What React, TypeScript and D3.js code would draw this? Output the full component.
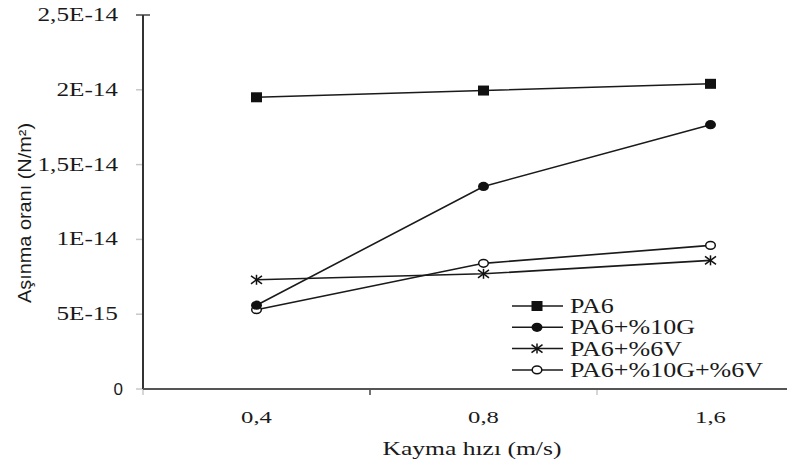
import React, { useEffect, useRef } from 'react';
import * as d3 from 'd3';

// Data
const categories = ['0,4', '0,8', '1,6'];
const pa6 = [1.95e-14, 1.995e-14, 2.04e-14];
const pa6G = [5.6e-15, 1.354e-14, 1.767e-14];
const pa6V = [7.3e-15, 7.7e-15, 8.6e-15];
const pa6GV = [5.3e-15, 8.4e-15, 9.6e-15];
const seriesNames = ['PA6', 'PA6+%10G', 'PA6+%6V', 'PA6+%10G+%6V'];
const markerTypes = ['square', 'circle', 'star', 'open'];
const yTickValues = [0, 5e-15, 1e-14, 1.5e-14, 2e-14, 2.5e-14];
const yTickLabels = ['0', '5E-15', '1E-14', '1,5E-14', '2E-14', '2,5E-14'];

const W = 787;
const H = 463;

const App = () => {
  const ref = useRef<SVGSVGElement>(null);

  useEffect(() => {
    const svg = d3.select(ref.current);
    svg.selectAll('*').remove();

    const left = 143;
    const bottom = 389;
    const top = 15;

    const x = d3.scaleBand().domain(categories).range([left, left + 3 * 227]);
    const y = d3.scaleLinear().domain([0, 2.5e-14]).range([bottom, top]);
    const cx = (c: string) => (x(c) as number) + x.bandwidth() / 2;

    const serif = '"Liberation Serif", "Times New Roman", serif';
    const sans = '"Liberation Sans", Arial, sans-serif';

    // stretch text horizontally like the scanned original
    const stretch = (sel: d3.Selection<SVGTextElement, any, any, any>, k: number) => {
      sel.each(function () {
        const w = this.getComputedTextLength();
        d3.select(this).attr('textLength', w * k).attr('lengthAdjust', 'spacingAndGlyphs');
      });
    };

    // y ticks
    const yt = svg.append('g');
    yt.selectAll('line')
      .data(yTickValues)
      .enter()
      .append('line')
      .attr('x1', 136)
      .attr('x2', (d, i) => (i === yTickValues.length - 1 ? 150 : left))
      .attr('y1', d => y(d))
      .attr('y2', d => y(d))
      .attr('stroke', (d, i) => (i === yTickValues.length - 1 ? '#444' : '#c8c8c8'))
      .attr('stroke-width', 1.5);

    const ylab = yt.selectAll('text.yl')
      .data(yTickValues.slice(1))
      .enter()
      .append('text')
      .attr('class', 'yl')
      .attr('x', 118)
      .attr('y', d => y(d) + 6)
      .attr('text-anchor', 'end')
      .attr('font-family', serif)
      .attr('font-size', 18)
      .attr('fill', '#1a1a1a')
      .text((d, i) => yTickLabels[i + 1]);
    stretch(ylab as any, 1.4);

    yt.append('text')
      .attr('x', 123)
      .attr('y', bottom + 6)
      .attr('text-anchor', 'end')
      .attr('font-family', sans)
      .attr('font-size', 17)
      .attr('fill', '#1a1a1a')
      .text(yTickLabels[0]);

    // x ticks
    svg.append('g')
      .selectAll('line')
      .data(categories)
      .enter()
      .append('line')
      .attr('x1', d => x(d) as number)
      .attr('x2', d => x(d) as number)
      .attr('y1', bottom)
      .attr('y2', bottom + 6)
      .attr('stroke', (d, i) => (i === 1 ? '#444' : '#c8c8c8'))
      .attr('stroke-width', 1.5);

    const xlab = svg.append('g')
      .selectAll('text')
      .data(categories)
      .enter()
      .append('text')
      .attr('x', d => cx(d))
      .attr('y', 423)
      .attr('text-anchor', 'middle')
      .attr('font-family', serif)
      .attr('font-size', 17)
      .attr('fill', '#1a1a1a')
      .text(d => d);
    stretch(xlab as any, 1.45);

    // axis lines
    svg.append('line')
      .attr('x1', left).attr('x2', left)
      .attr('y1', top).attr('y2', bottom)
      .attr('stroke', '#333').attr('stroke-width', 2);
    svg.append('line')
      .attr('x1', left).attr('x2', W)
      .attr('y1', bottom).attr('y2', bottom)
      .attr('stroke', '#555').attr('stroke-width', 2);

    // axis titles
    const xt = svg.append('text')
      .attr('x', 472)
      .attr('y', 455)
      .attr('text-anchor', 'middle')
      .attr('font-family', serif)
      .attr('font-size', 18)
      .attr('fill', '#1a1a1a')
      .text('Kayma hızı (m/s)');
    stretch(xt as any, 1.42);

    svg.append('text')
      .attr('transform', 'translate(31,213) rotate(-90)')
      .attr('text-anchor', 'middle')
      .attr('font-family', sans)
      .attr('font-size', 18)
      .attr('fill', '#1a1a1a')
      .attr('textLength', 180)
      .attr('lengthAdjust', 'spacingAndGlyphs')
      .text('Aşınma oranı (N/m²)');

    // markers
    const drawMarker = (g: d3.Selection<SVGGElement, any, any, any>, type: string, px: number, py: number) => {
      if (type === 'square') {
        g.append('rect').attr('x', px - 5.5).attr('y', py - 5).attr('width', 11).attr('height', 10).attr('fill', '#111');
      } else if (type === 'circle') {
        g.append('ellipse').attr('cx', px).attr('cy', py).attr('rx', 5.5).attr('ry', 4.6).attr('fill', '#111');
      } else if (type === 'open') {
        g.append('ellipse').attr('cx', px).attr('cy', py).attr('rx', 4.8).attr('ry', 3.8)
          .attr('fill', '#fff').attr('stroke', '#111').attr('stroke-width', 1.5);
      } else {
        const s = g.append('g').attr('stroke', '#111').attr('stroke-width', 1.5);
        s.append('line').attr('x1', px).attr('x2', px).attr('y1', py - 5).attr('y2', py + 5);
        s.append('line').attr('x1', px - 5.5).attr('x2', px + 5.5).attr('y1', py - 4).attr('y2', py + 4);
        s.append('line').attr('x1', px - 5.5).attr('x2', px + 5.5).attr('y1', py + 4).attr('y2', py - 4);
      }
    };

    const allSeries = [pa6, pa6G, pa6V, pa6GV];
    const line = d3.line<number>()
      .x((d, i) => cx(categories[i]))
      .y(d => y(d));

    // draw in an order so the filled markers sit on top
    [3, 2, 1, 0].forEach(si => {
      const g = svg.append('g');
      g.append('path')
        .attr('d', line(allSeries[si]) as string)
        .attr('fill', 'none')
        .attr('stroke', '#1a1a1a')
        .attr('stroke-width', 1.6);
      allSeries[si].forEach((v, i) => drawMarker(g, markerTypes[si], cx(categories[i]), y(v)));
    });

    // legend
    const leg = svg.append('g');
    seriesNames.forEach((name, i) => {
      const ly = 306 + i * 21.3;
      const g = leg.append('g');
      g.append('line').attr('x1', 512).attr('x2', 563).attr('y1', ly).attr('y2', ly)
        .attr('stroke', '#1a1a1a').attr('stroke-width', 1.5);
      drawMarker(g as any, markerTypes[i], 537, ly);
      const t = g.append('text')
        .attr('x', 570)
        .attr('y', ly + 7)
        .attr('font-family', serif)
        .attr('font-size', 20)
        .attr('fill', '#1a1a1a')
        .text(name);
      stretch(t as any, 1.3);
    });
  }, []);

  return (
    <svg
      ref={ref}
      width={W}
      height={H}
      style={{ position: 'absolute', left: 0, top: 0, background: '#fff' }}
    />
  );
};

export default App;
